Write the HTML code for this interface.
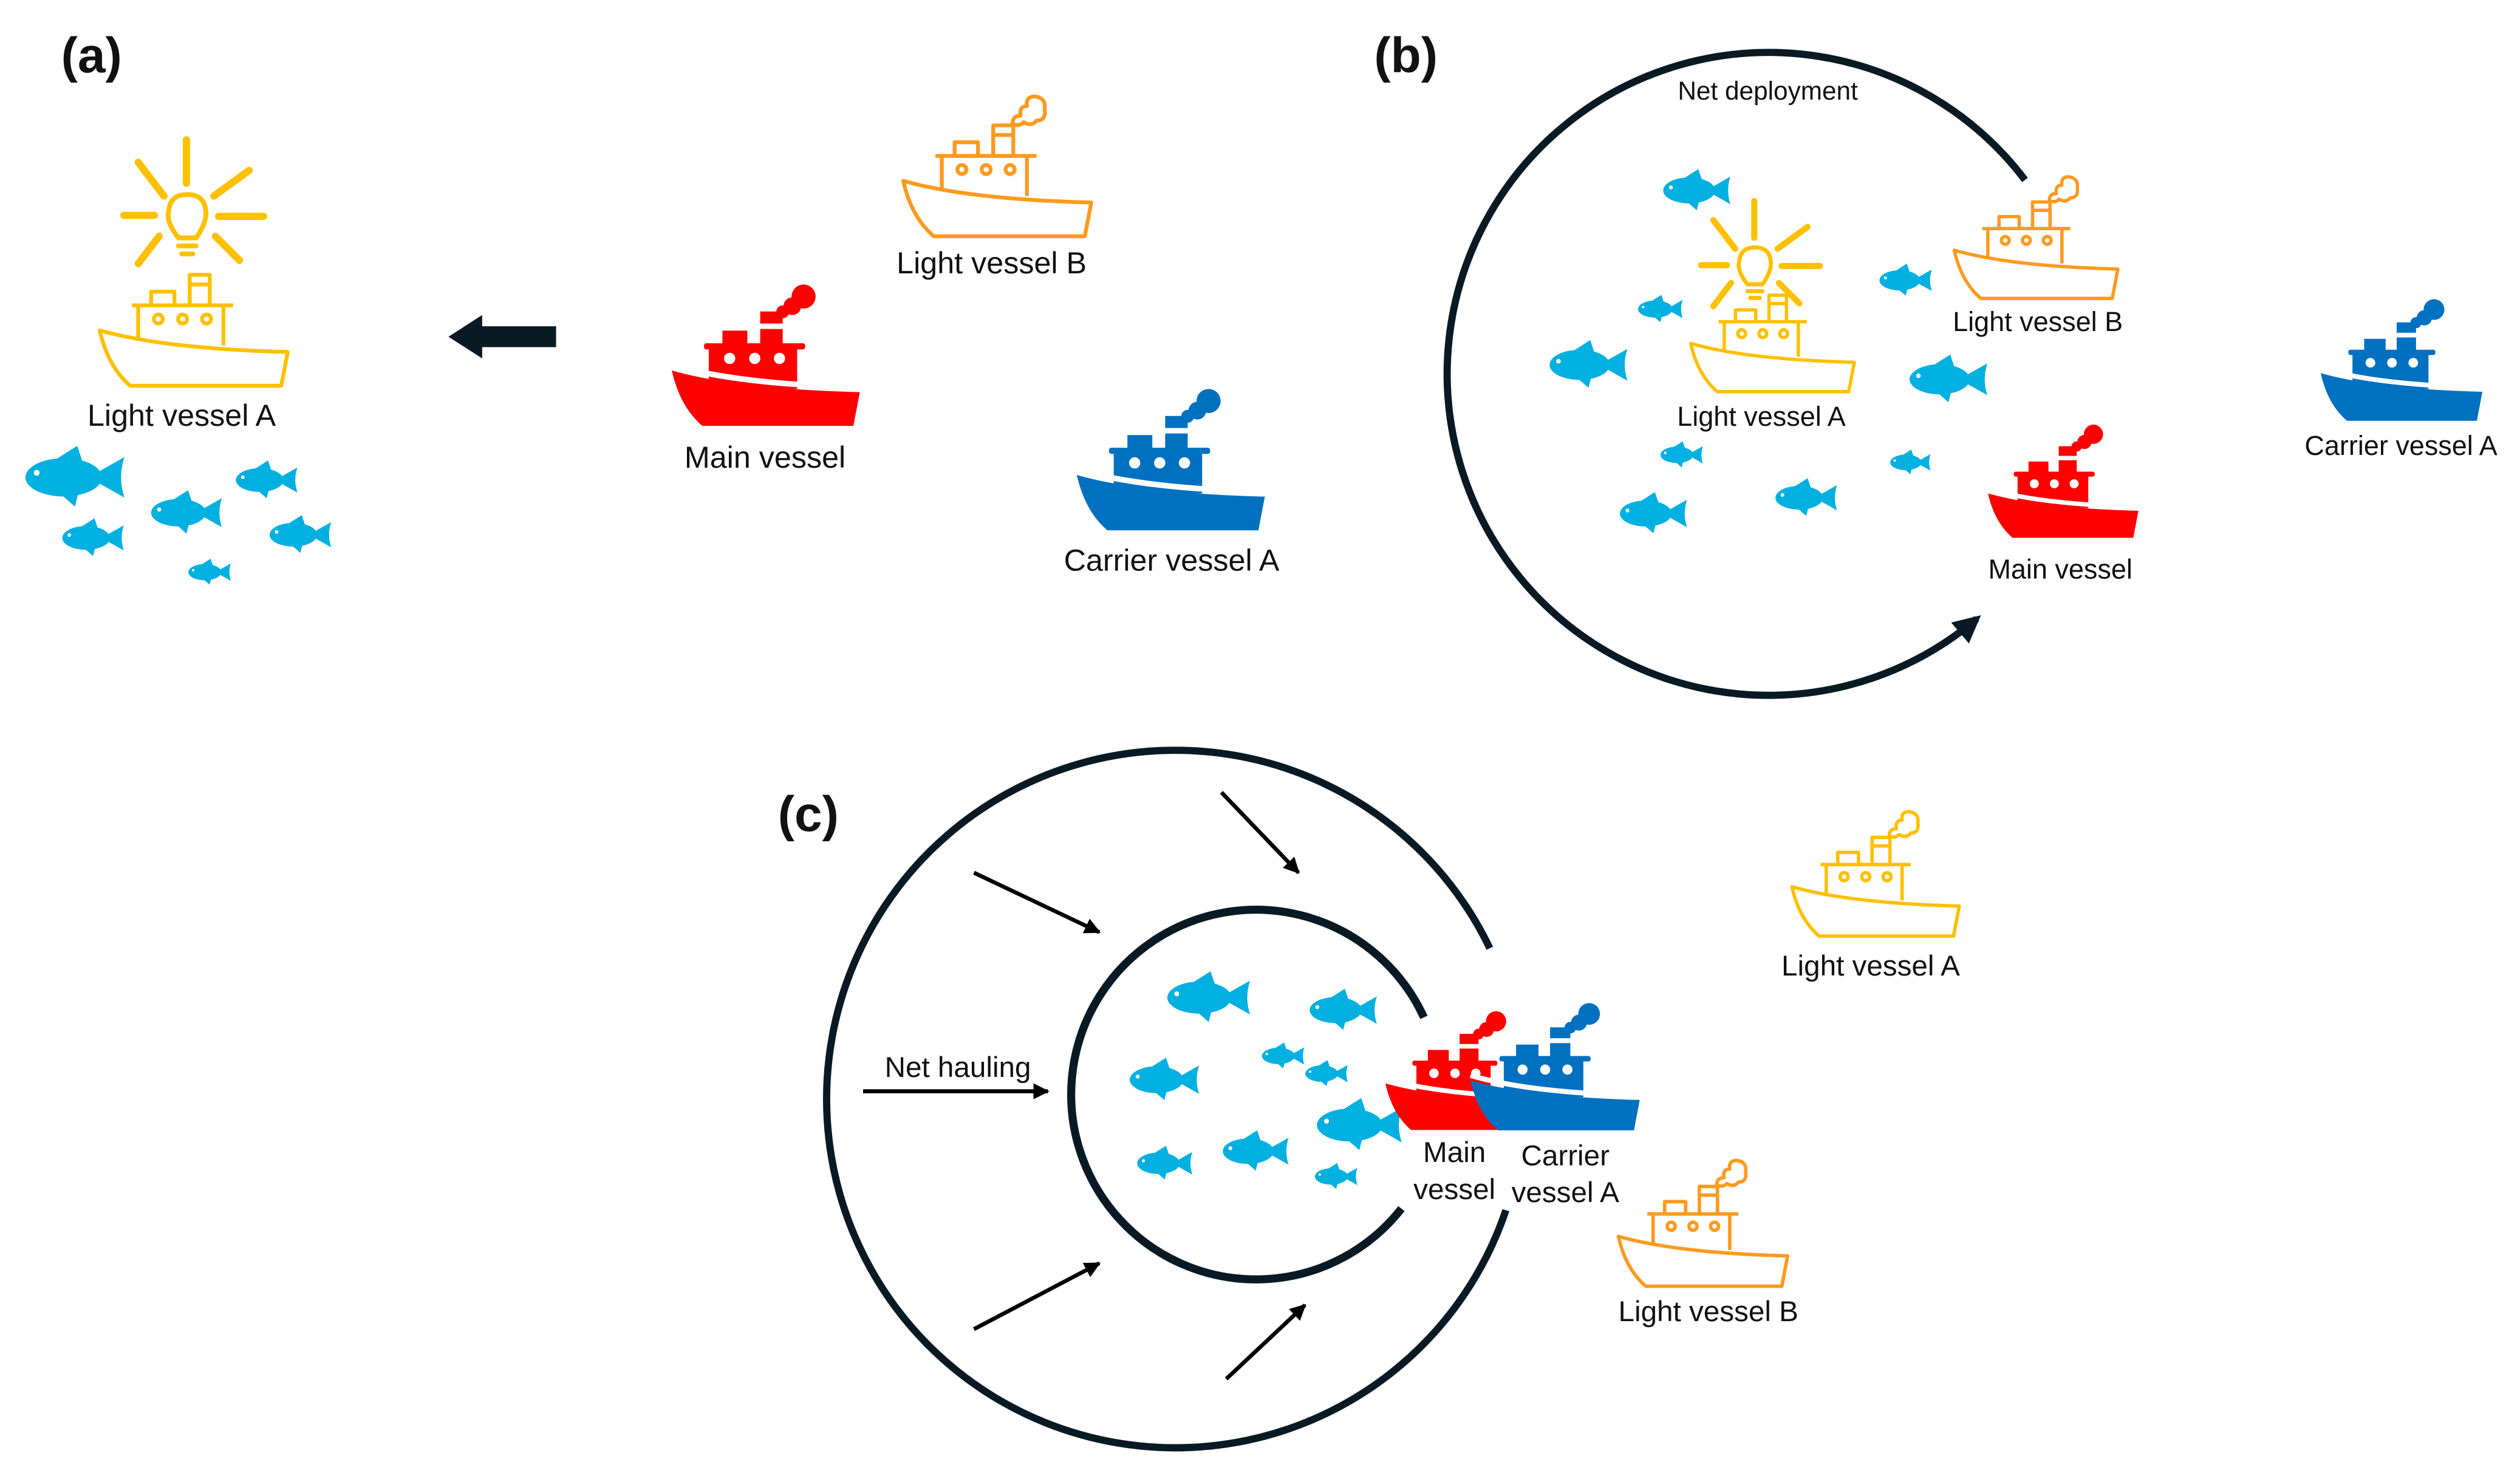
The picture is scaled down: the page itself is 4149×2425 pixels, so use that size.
<!DOCTYPE html>
<html><head><meta charset="utf-8">
<style>
html,body{margin:0;padding:0;background:#fff;}
svg{display:block;}
text{font-family:"Liberation Sans",sans-serif;fill:#111;}
</style></head>
<body>
<svg width="4149" height="2425" viewBox="0 0 1568 916.5" xmlns="http://www.w3.org/2000/svg">
<defs>
  <g id="shipF">
    <rect x="20" y="35.6" width="63" height="3.8" rx="1.5"/>
    <rect x="23" y="38" width="55" height="26"/>
    <rect x="31.5" y="27.7" width="15.5" height="8.5"/>
    <rect x="55" y="26.7" width="14" height="9.5"/>
    <rect x="55" y="15.8" width="14" height="7.5"/>
    <circle cx="82" cy="6.5" r="7.5"/><circle cx="75" cy="12.5" r="5.5"/><circle cx="69" cy="16" r="4"/>
    <circle cx="36" cy="45" r="3.5" fill="#fff"/><circle cx="51.6" cy="45" r="3.5" fill="#fff"/><circle cx="67" cy="45" r="3.5" fill="#fff"/>
    <path d="M0,49 Q40,61 117,63" stroke="#fff" stroke-width="3.5" fill="none"/>
    <path d="M0,52.5 Q40,64 117,66 L113,87 L19,87 Q5,75 0,52.5Z"/>
  </g>
  <g id="shipO" fill="#fff" stroke-width="2.4" stroke-linejoin="round">
    <path d="M20,37 H83 M24,37 V58 M77,37 V62" fill="none"/>
    <rect x="32" y="28.5" width="14.5" height="8.5"/>
    <rect x="56" y="18" width="12.5" height="19"/>
    <path d="M56,24 H68.5" fill="none"/>
    <circle cx="36.5" cy="45.5" r="2.8"/><circle cx="51.6" cy="45.5" r="2.8"/><circle cx="66.5" cy="45.5" r="2.8"/>
    <path d="M0,52.5 Q40,64 117,66 L113,87 L19,87 Q5,75 0,52.5Z"/>
  </g>
  <g id="smokeO" fill="none" stroke-width="2.4" stroke-linejoin="round">
    <path d="M68,17 Q68,12 73,12 Q72,6 77,6 Q76,0 82,0 Q89,1 88,8 Q89,15 83,15 Q80,19 75,16 Q72,19 68,17"/>
  </g>
  <g id="fish">
    <ellipse cx="19" cy="10" rx="17" ry="8.5"/>
    <path d="M30,10 L46,1 Q43,10 46,19 Z"/>
    <path d="M14,3 L25,-4 L28,5 Z"/>
    <path d="M16,16 L24,23 L26,15 Z"/>
    <circle cx="7" cy="8" r="1.3" fill="#fff"/>
  </g>
  <g id="sun" stroke="#ffc000" stroke-width="4.5" stroke-linecap="round" fill="none">
    <line x1="116" y1="87" x2="116" y2="114"/>
    <line x1="86" y1="101" x2="102" y2="122"/>
    <line x1="155" y1="106" x2="133" y2="122"/>
    <line x1="77" y1="134" x2="96" y2="134"/>
    <line x1="136" y1="134.6" x2="164" y2="134.6"/>
    <line x1="99" y1="147" x2="86" y2="164"/>
    <line x1="134" y1="147" x2="149" y2="162"/>
    <path d="M111,148 Q103,138 105,131 Q106,121 116.5,121 Q127,121 128,131 Q129,138 122,148 Z" stroke-width="3"/>
    <line x1="111" y1="153" x2="122" y2="153" stroke-width="3"/>
    <line x1="113" y1="158" x2="120" y2="158" stroke-width="3"/>
  </g>
  <marker id="ah" viewBox="0 0 10 10" refX="8" refY="5" markerWidth="3.8" markerHeight="3.8" orient="auto" markerUnits="strokeWidth">
    <path d="M0,0 L10,5 L0,10 Z" fill="#0a1a24"/>
  </marker>
  <marker id="ah2" viewBox="0 0 10 10" refX="9" refY="5" markerWidth="4" markerHeight="4" orient="auto" markerUnits="strokeWidth">
    <path d="M0,0 L10,5 L0,10 Z" fill="#000"/>
  </marker>
</defs>

<!-- (a) -->
<text x="38" y="45" font-size="31" font-weight="bold">(a)</text>
<use href="#sun"/>
<g transform="translate(62,153)" stroke="#ffc000"><use href="#shipO"/></g>
<text x="113" y="265" font-size="19" text-anchor="middle">Light vessel A</text>
<g fill="#00b0e0">
  <use href="#fish" transform="translate(13,283) scale(1.4)"/>
  <use href="#fish" transform="translate(145,290) scale(0.87)"/>
  <use href="#fish" transform="translate(92,309) scale(1.0)"/>
  <use href="#fish" transform="translate(37,326) scale(0.87)"/>
  <use href="#fish" transform="translate(166,324) scale(0.87)"/>
  <use href="#fish" transform="translate(116,350) scale(0.6)"/>
</g>
<path d="M346,203 H300 V196 L279,209.5 L300,223 V216 H346 Z" fill="#0a1a24"/>
<g transform="translate(562,60)" stroke="#ff9a1f"><use href="#shipO"/><use href="#smokeO"/></g>
<text x="617" y="170" font-size="19" text-anchor="middle">Light vessel B</text>
<g transform="translate(418,178)" fill="#ff0000"><use href="#shipF"/></g>
<text x="476" y="291" font-size="19" text-anchor="middle">Main vessel</text>
<g transform="translate(670,243)" fill="#0070c0"><use href="#shipF"/></g>
<text x="729" y="355" font-size="19" text-anchor="middle">Carrier vessel A</text>

<!-- (b) -->
<text x="855" y="45" font-size="31" font-weight="bold">(b)</text>
<path d="M1260,112 A200,200 0 1 0 1230,385" fill="none" stroke="#0a1a24" stroke-width="4.5" marker-end="url(#ah)"/>
<text x="1100" y="62" font-size="16" text-anchor="middle">Net deployment</text>
<g transform="translate(1092,165) scale(0.85) translate(-116.5,-134)"><use href="#sun"/></g>
<g transform="translate(1052,168) scale(0.87)" stroke="#ffc000"><use href="#shipO"/></g>
<text x="1096" y="265" font-size="17" text-anchor="middle">Light vessel A</text>
<g transform="translate(1216,110) scale(0.87)" stroke="#ff9a1f"><use href="#shipO"/><use href="#smokeO"/></g>
<text x="1268" y="206" font-size="17" text-anchor="middle">Light vessel B</text>
<g transform="translate(1237,265) scale(0.8)" fill="#ff0000"><use href="#shipF"/></g>
<text x="1282" y="360" font-size="17" text-anchor="middle">Main vessel</text>
<g transform="translate(1444,187) scale(0.86)" fill="#0070c0"><use href="#shipF"/></g>
<text x="1494" y="283" font-size="17" text-anchor="middle">Carrier vessel A</text>
<g fill="#00b0e0">
  <use href="#fish" transform="translate(1033,109) scale(0.95)"/>
  <use href="#fish" transform="translate(1018,186) scale(0.63)"/>
  <use href="#fish" transform="translate(962,216) scale(1.1)"/>
  <use href="#fish" transform="translate(1168,167) scale(0.74)"/>
  <use href="#fish" transform="translate(1186,225) scale(1.1)"/>
  <use href="#fish" transform="translate(1032,277) scale(0.6)"/>
  <use href="#fish" transform="translate(1006,310) scale(0.95)"/>
  <use href="#fish" transform="translate(1103,301) scale(0.87)"/>
  <use href="#fish" transform="translate(1175,282) scale(0.57)"/>
</g>

<!-- (c) -->
<text x="484" y="517" font-size="31" font-weight="bold">(c)</text>
<path d="M927,590 A217,217 0 1 0 937,753" fill="none" stroke="#0a1a24" stroke-width="4.5"/>
<path d="M886,633 A115,115 0 1 0 872,752" fill="none" stroke="#0a1a24" stroke-width="5"/>
<g stroke="#000" stroke-width="2.5" marker-end="url(#ah2)">
  <line x1="606" y1="543" x2="684" y2="580"/>
  <line x1="760" y1="493" x2="808" y2="543"/>
  <line x1="537" y1="679" x2="652" y2="679"/>
  <line x1="606" y1="827" x2="684" y2="786"/>
  <line x1="763" y1="858" x2="812" y2="812"/>
</g>
<text x="596" y="670" font-size="18" text-anchor="middle">Net hauling</text>
<g fill="#00b0e0">
  <use href="#fish" transform="translate(724,609) scale(1.17)"/>
  <use href="#fish" transform="translate(813,619) scale(0.95)"/>
  <use href="#fish" transform="translate(701,662) scale(0.98)"/>
  <use href="#fish" transform="translate(784,651) scale(0.6)"/>
  <use href="#fish" transform="translate(811,662) scale(0.6)"/>
  <use href="#fish" transform="translate(817,688) scale(1.2)"/>
  <use href="#fish" transform="translate(706,716) scale(0.78)"/>
  <use href="#fish" transform="translate(759,707) scale(0.93)"/>
  <use href="#fish" transform="translate(817,726) scale(0.6)"/>
</g>
<g transform="translate(1115,505) scale(0.89)" stroke="#ffc000"><use href="#shipO"/><use href="#smokeO"/></g>
<text x="1164" y="607" font-size="18" text-anchor="middle">Light vessel A</text>
<g transform="translate(862,630) scale(0.84)" fill="#ff0000"><use href="#shipF"/></g>
<g transform="translate(915,625) scale(0.9)" fill="#0070c0"><use href="#shipF"/></g>
<text x="905" y="723" font-size="18" text-anchor="middle">Main</text>
<text x="905" y="746" font-size="18" text-anchor="middle">vessel</text>
<text x="974" y="725" font-size="18" text-anchor="middle">Carrier</text>
<text x="974" y="748" font-size="18" text-anchor="middle">vessel A</text>
<g transform="translate(1007,722) scale(0.9)" stroke="#ff9a1f"><use href="#shipO"/><use href="#smokeO"/></g>
<text x="1063" y="822" font-size="18" text-anchor="middle">Light vessel B</text>
</svg>
</body></html>
